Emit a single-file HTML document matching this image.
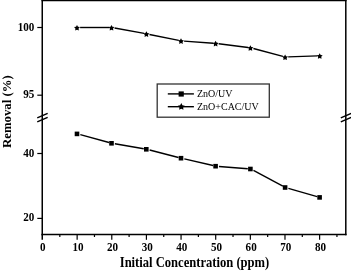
<!DOCTYPE html><html><head><meta charset="utf-8"><style>html,body{margin:0;padding:0;background:#fff;overflow:hidden}svg{display:block;will-change:transform}</style></head><body><svg width="351" height="272" viewBox="0 0 351 272"><rect width="351" height="272" fill="#fff"/><g stroke="#000" stroke-width="1.5" fill="none" stroke-linecap="square"><line x1="42.25" y1="0.6" x2="345.8" y2="0.6"/><line x1="42.25" y1="0.6" x2="42.25" y2="234.6"/><line x1="345.8" y1="0.6" x2="345.8" y2="234.6"/><line x1="42.25" y1="234.6" x2="345.8" y2="234.6"/></g><g stroke="#000" stroke-width="1.2"><line x1="42.25" y1="234.6" x2="42.25" y2="239.8" stroke-width="1.5"/><line x1="59.82" y1="234.6" x2="59.82" y2="237.0"/><line x1="77.14" y1="234.6" x2="77.14" y2="239.8"/><line x1="94.46" y1="234.6" x2="94.46" y2="237.0"/><line x1="111.78" y1="234.6" x2="111.78" y2="239.8"/><line x1="129.10" y1="234.6" x2="129.10" y2="237.0"/><line x1="146.42" y1="234.6" x2="146.42" y2="239.8"/><line x1="163.74" y1="234.6" x2="163.74" y2="237.0"/><line x1="181.06" y1="234.6" x2="181.06" y2="239.8"/><line x1="198.38" y1="234.6" x2="198.38" y2="237.0"/><line x1="215.70" y1="234.6" x2="215.70" y2="239.8"/><line x1="233.02" y1="234.6" x2="233.02" y2="237.0"/><line x1="250.34" y1="234.6" x2="250.34" y2="239.8"/><line x1="267.66" y1="234.6" x2="267.66" y2="237.0"/><line x1="284.98" y1="234.6" x2="284.98" y2="239.8"/><line x1="302.30" y1="234.6" x2="302.30" y2="237.0"/><line x1="319.62" y1="234.6" x2="319.62" y2="239.8"/><line x1="336.94" y1="234.6" x2="336.94" y2="237.0"/><line x1="37.3" y1="27.5" x2="42.25" y2="27.5"/><line x1="37.3" y1="95.2" x2="42.25" y2="95.2"/><line x1="37.3" y1="153.5" x2="42.25" y2="153.5"/><line x1="37.3" y1="218.4" x2="42.25" y2="218.4"/></g><g stroke="#000" stroke-width="1.5"><line x1="37.25" y1="117.9" x2="47.65" y2="113.4"/><line x1="37.25" y1="121.9" x2="47.65" y2="117.4"/><line x1="340.80" y1="117.9" x2="351.20" y2="113.4"/><line x1="340.80" y1="121.9" x2="351.20" y2="117.4"/></g><g font-family="Liberation Serif" font-weight="bold" font-size="11.1" fill="#000"><text transform="translate(42.65,250.9) scale(1,1.03)" text-anchor="middle">0</text><text transform="translate(77.94,250.9) scale(1,1.03)" text-anchor="middle">10</text><text transform="translate(112.58,250.9) scale(1,1.03)" text-anchor="middle">20</text><text transform="translate(147.22,250.9) scale(1,1.03)" text-anchor="middle">30</text><text transform="translate(181.86,250.9) scale(1,1.03)" text-anchor="middle">40</text><text transform="translate(216.50,250.9) scale(1,1.03)" text-anchor="middle">50</text><text transform="translate(251.14,250.9) scale(1,1.03)" text-anchor="middle">60</text><text transform="translate(285.78,250.9) scale(1,1.03)" text-anchor="middle">70</text><text transform="translate(320.42,250.9) scale(1,1.03)" text-anchor="middle">80</text><text transform="translate(34.3,30.5) scale(1,1.07)" text-anchor="end">100</text><text transform="translate(34.3,97.5) scale(1,1.07)" text-anchor="end">95</text><text transform="translate(34.3,156.7) scale(1,1.07)" text-anchor="end">40</text><text transform="translate(34.3,221.1) scale(1,1.07)" text-anchor="end">20</text></g><text transform="translate(194.5,266.6) scale(1,1.09)" text-anchor="middle" font-family="Liberation Serif" font-weight="bold" font-size="12.6">Initial Concentration (ppm)</text><text transform="translate(11,111.6) rotate(-90)" text-anchor="middle" font-family="Liberation Serif" font-weight="bold" font-size="12.8">Removal (%)</text><g stroke="#000" stroke-width="1.4" fill="none"><line x1="80.10" y1="27.50" x2="109.20" y2="27.50"/><line x1="114.56" y1="27.99" x2="144.14" y2="33.41"/><line x1="149.45" y1="34.44" x2="178.75" y2="40.36"/><line x1="184.09" y1="41.09" x2="213.31" y2="43.21"/><line x1="218.68" y1="43.74" x2="248.12" y2="47.46"/><line x1="253.41" y1="48.49" x2="282.89" y2="56.31"/><line x1="288.20" y1="56.91" x2="317.40" y2="55.89"/><line x1="80.29" y1="134.69" x2="109.01" y2="142.51"/><line x1="114.86" y1="143.81" x2="143.74" y2="148.79"/><line x1="149.61" y1="150.05" x2="178.49" y2="157.45"/><line x1="184.32" y1="158.88" x2="213.08" y2="165.52"/><line x1="218.99" y1="166.44" x2="247.81" y2="168.76"/><line x1="253.45" y1="170.41" x2="282.85" y2="186.09"/><line x1="288.38" y1="188.33" x2="317.12" y2="196.57"/></g><polygon points="77.00,24.90 77.97,26.67 79.95,27.04 78.57,28.51 78.82,30.51 77.00,29.65 75.18,30.51 75.43,28.51 74.05,27.04 76.03,26.67" fill="#000"/><polygon points="111.50,24.90 112.47,26.67 114.45,27.04 113.07,28.51 113.32,30.51 111.50,29.65 109.68,30.51 109.93,28.51 108.55,27.04 110.53,26.67" fill="#000"/><polygon points="146.40,31.30 147.37,33.07 149.35,33.44 147.97,34.91 148.22,36.91 146.40,36.05 144.58,36.91 144.83,34.91 143.45,33.44 145.43,33.07" fill="#000"/><polygon points="181.00,38.30 181.97,40.07 183.95,40.44 182.57,41.91 182.82,43.91 181.00,43.05 179.18,43.91 179.43,41.91 178.05,40.44 180.03,40.07" fill="#000"/><polygon points="215.60,40.80 216.57,42.57 218.55,42.94 217.17,44.41 217.42,46.41 215.60,45.55 213.78,46.41 214.03,44.41 212.65,42.94 214.63,42.57" fill="#000"/><polygon points="250.40,45.20 251.37,46.97 253.35,47.34 251.97,48.81 252.22,50.81 250.40,49.95 248.58,50.81 248.83,48.81 247.45,47.34 249.43,46.97" fill="#000"/><polygon points="285.10,54.40 286.07,56.17 288.05,56.54 286.67,58.01 286.92,60.01 285.10,59.15 283.28,60.01 283.53,58.01 282.15,56.54 284.13,56.17" fill="#000"/><polygon points="319.70,53.20 320.67,54.97 322.65,55.34 321.27,56.81 321.52,58.81 319.70,57.95 317.88,58.81 318.13,56.81 316.75,55.34 318.73,54.97" fill="#000"/><rect x="74.70" y="131.60" width="4.6" height="4.6" fill="#000"/><rect x="109.20" y="141.00" width="4.6" height="4.6" fill="#000"/><rect x="144.00" y="147.00" width="4.6" height="4.6" fill="#000"/><rect x="178.70" y="155.90" width="4.6" height="4.6" fill="#000"/><rect x="213.30" y="163.90" width="4.6" height="4.6" fill="#000"/><rect x="248.10" y="166.70" width="4.6" height="4.6" fill="#000"/><rect x="282.80" y="185.20" width="4.6" height="4.6" fill="#000"/><rect x="317.30" y="195.10" width="4.6" height="4.6" fill="#000"/><rect x="157.2" y="84" width="112.1" height="33.2" fill="none" stroke="#333" stroke-width="1.3"/><g stroke="#000" stroke-width="1.4"><line x1="167.8" y1="93.9" x2="193.9" y2="93.9"/><line x1="167.8" y1="106.7" x2="193.9" y2="106.7"/></g><rect x="178.60" y="91.40" width="5.2" height="5.2" fill="#000"/><polygon points="181.30,103.10 182.45,105.22 184.82,105.66 183.15,107.40 183.47,109.79 181.30,108.75 179.13,109.79 179.45,107.40 177.78,105.66 180.15,105.22" fill="#000"/><g font-family="Liberation Serif" font-size="10" fill="#000"><text x="197" y="97.4">ZnO/UV</text><text x="197" y="110.3">ZnO+CAC/UV</text></g></svg></body></html>
